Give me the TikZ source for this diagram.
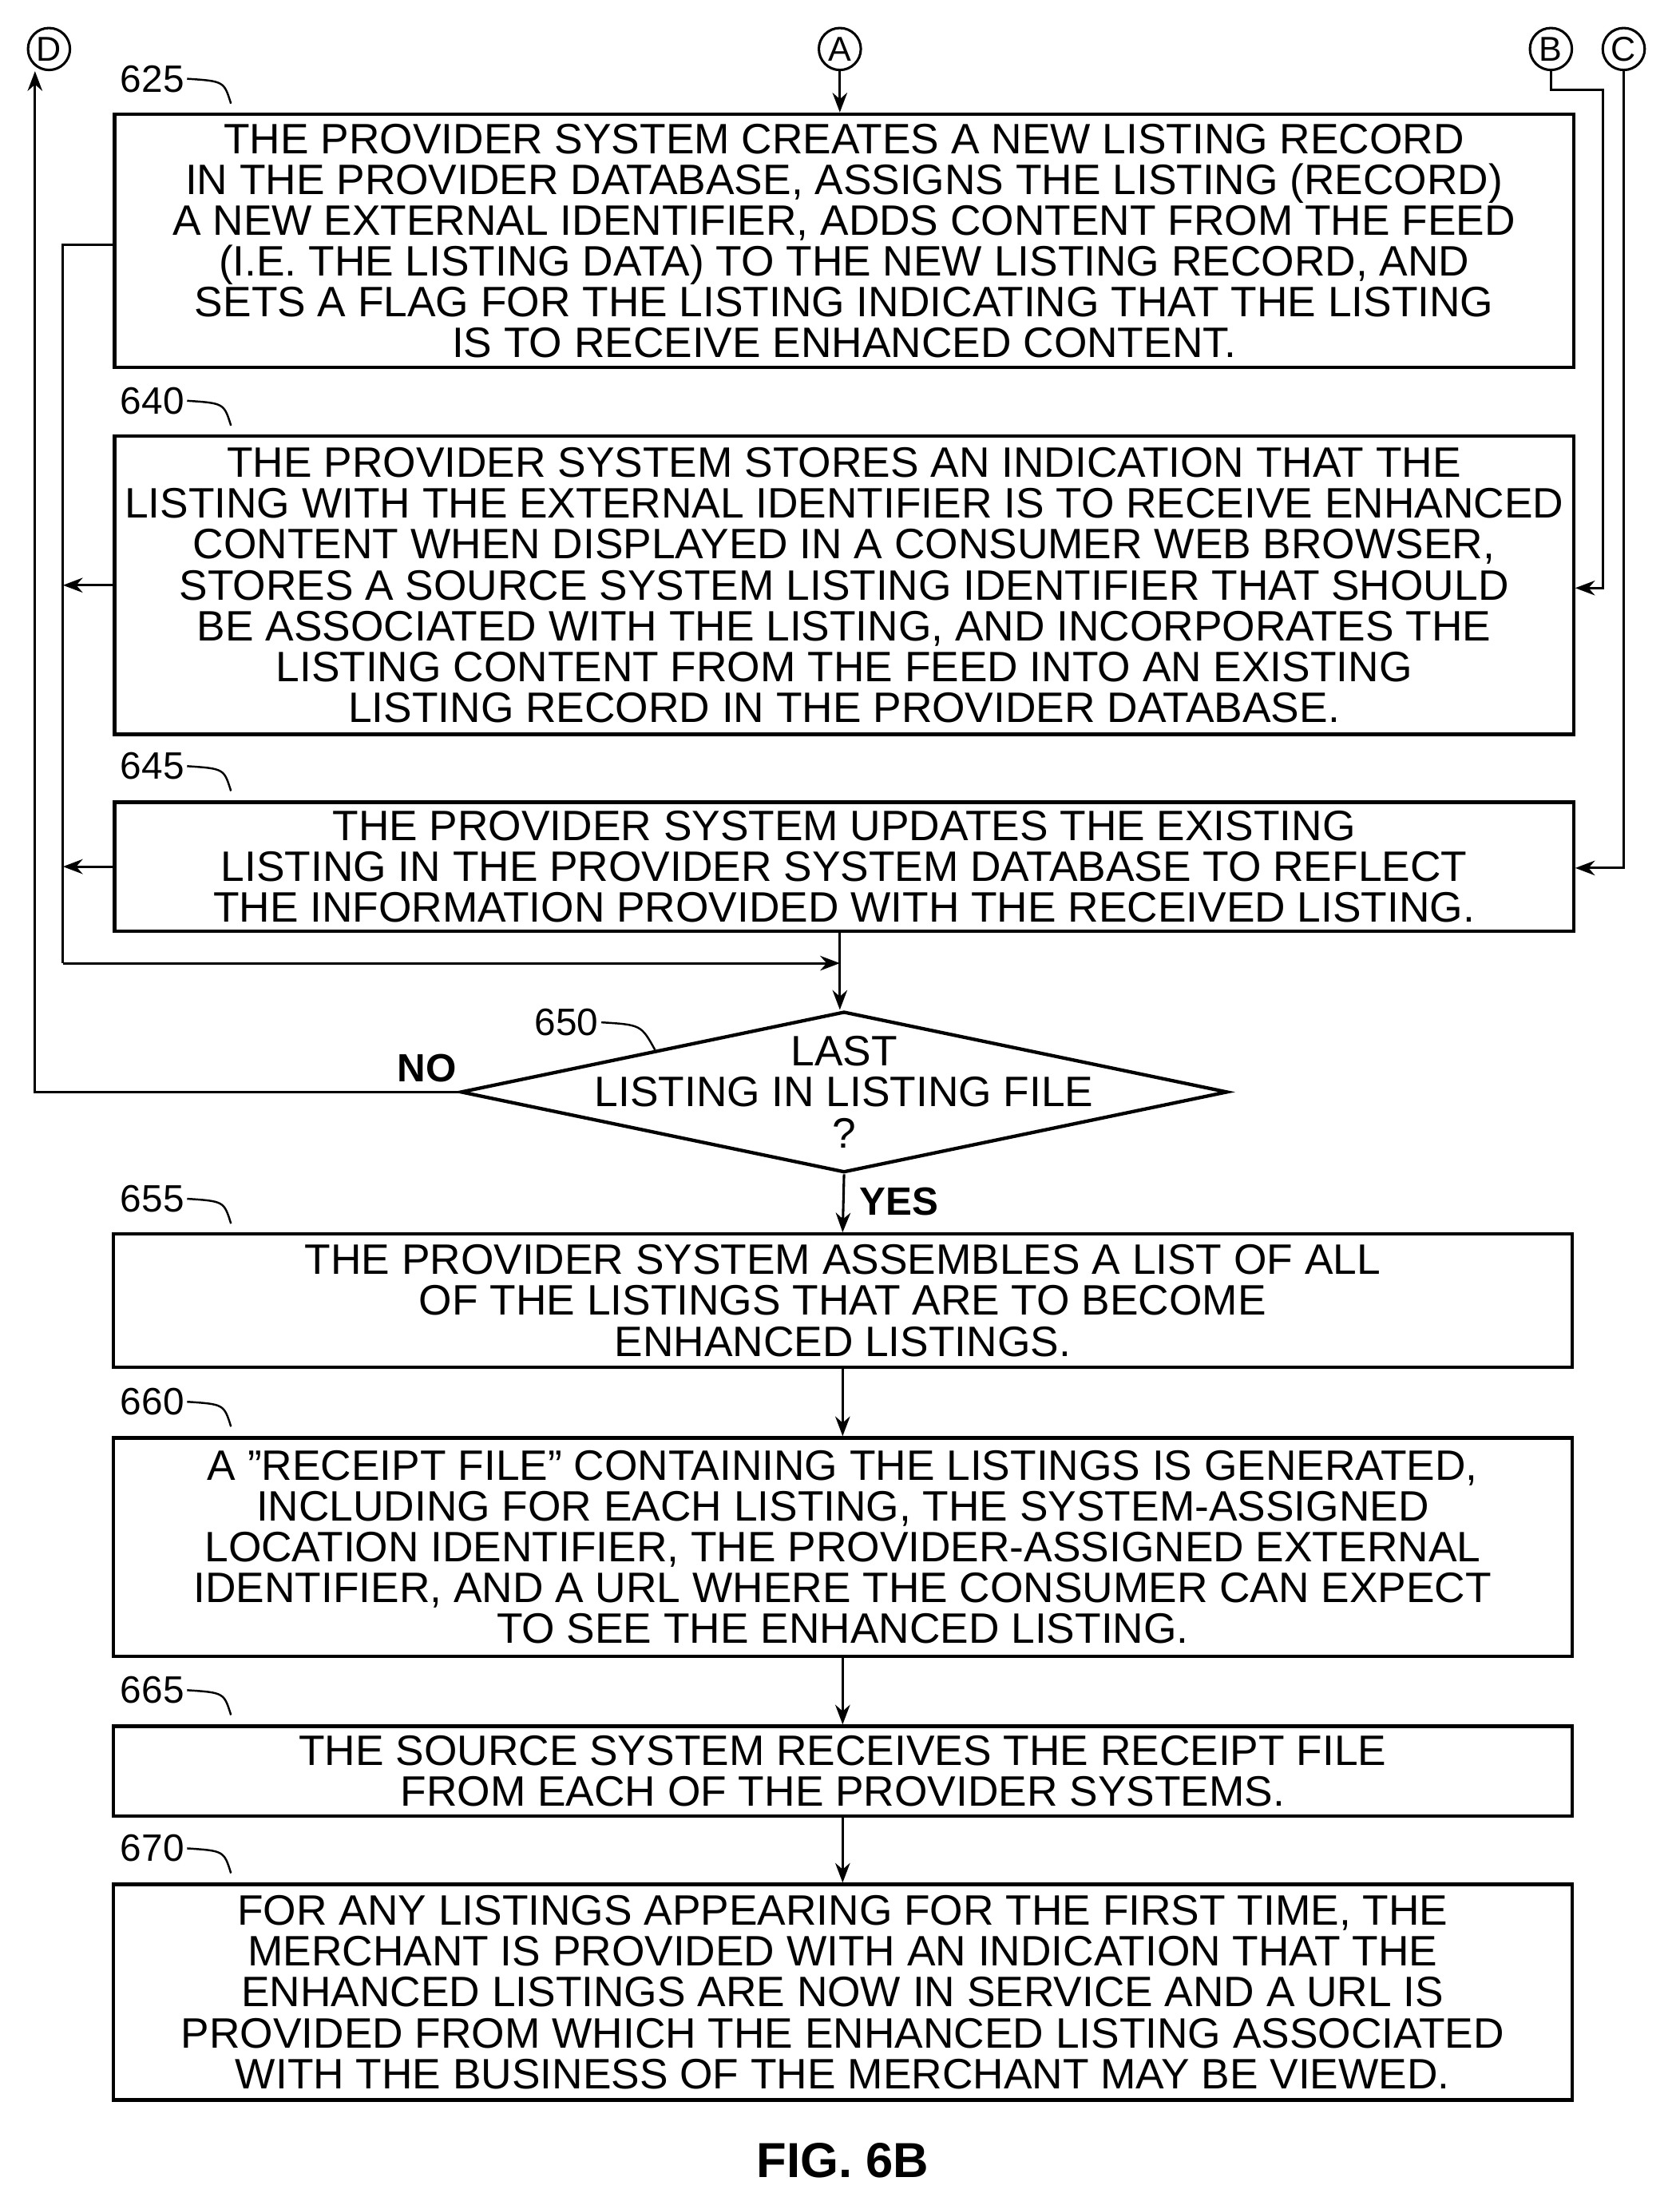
\documentclass[tikz,border=0pt]{standalone}
\usepackage{fontspec}
\setmainfont{Liberation Sans}
\usetikzlibrary{positioning}
\usetikzlibrary{shapes.geometric}
\usetikzlibrary{arrows.meta}

\tikzset{
  stepbox/.style={draw, line width=1.4pt, align=center, minimum width=20.85cm, inner sep=0pt, font=\fontsize{17.3}{16.6}\selectfont},
  reflabel/.style={font=\fontsize{15.5}{16}\selectfont, anchor=south west, inner sep=1pt},
  connector/.style={draw, circle, line width=1pt, minimum size=0.6cm, inner sep=0pt, font=\fontsize{14}{14}\selectfont},
  flow/.style={line width=1pt, -{Stealth[length=8pt,width=6pt]}},
  hook/.style={line width=0.8pt}
}

\begin{document}
\begin{tikzpicture}[x=0.02cm, y=-0.02cm]

        \useasboundingbox (0,0) rectangle (1200,1575);

        % Connectors
        \node[connector] (conA) at (600,35) {A};
        \node[connector] (conD) at (35,35) {D};
        \node[connector] (conB) at (1108,35) {B};
        \node[connector] (conC) at (1160,35) {C};

        % Boxes
        \node[stepbox, minimum height=3.62cm] (box625) at (603,172) {%
            THE PROVIDER SYSTEM CREATES A NEW LISTING RECORD\\
            IN THE PROVIDER DATABASE, ASSIGNS THE LISTING (RECORD)\\
            A NEW EXTERNAL IDENTIFIER, ADDS CONTENT FROM THE FEED\\
            (I.E. THE LISTING DATA) TO THE NEW LISTING RECORD, AND\\
            SETS A FLAG FOR THE LISTING INDICATING THAT THE LISTING\\
            IS TO RECEIVE ENHANCED CONTENT.};
        \node[stepbox, minimum height=4.26cm] (box640) at (603,418) {%
            THE PROVIDER SYSTEM STORES AN INDICATION THAT THE\\
            LISTING WITH THE EXTERNAL IDENTIFIER IS TO RECEIVE ENHANCED\\
            CONTENT WHEN DISPLAYED IN A CONSUMER WEB BROWSER,\\
            STORES A SOURCE SYSTEM LISTING IDENTIFIER THAT SHOULD\\
            BE ASSOCIATED WITH THE LISTING, AND INCORPORATES THE\\
            LISTING CONTENT FROM THE FEED INTO AN EXISTING\\
            LISTING RECORD IN THE PROVIDER DATABASE.};
        \node[stepbox, minimum height=1.84cm] (box645) at (603,619) {%
            THE PROVIDER SYSTEM UPDATES THE EXISTING\\
            LISTING IN THE PROVIDER SYSTEM DATABASE TO REFLECT\\
            THE INFORMATION PROVIDED WITH THE RECEIVED LISTING.};
        \node[draw, diamond, line width=1.4pt, aspect=4.76, minimum width=10.96cm, minimum height=2.3cm, inner sep=0pt] (dec650) at (603,780) {};
        \node[align=center, inner sep=0pt, font=\fontsize{17.3}{16.6}\selectfont] (dec650text) at (dec650.center) {%
            LAST\\ LISTING IN LISTING FILE\\ ?};
        \node[stepbox, minimum height=1.9cm] (box655) at (602,929) {%
            THE PROVIDER SYSTEM ASSEMBLES A LIST OF ALL\\
            OF THE LISTINGS THAT ARE TO BECOME\\
            ENHANCED LISTINGS.};
        \node[stepbox, minimum height=3.12cm] (box660) at (602,1105) {%
            A "RECEIPT FILE" CONTAINING THE LISTINGS IS GENERATED,\\
            INCLUDING FOR EACH LISTING, THE SYSTEM-ASSIGNED\\
            LOCATION IDENTIFIER, THE PROVIDER-ASSIGNED EXTERNAL\\
            IDENTIFIER, AND A URL WHERE THE CONSUMER CAN EXPECT\\
            TO SEE THE ENHANCED LISTING.};
        \node[stepbox, minimum height=1.28cm] (box665) at (602,1265) {%
            THE SOURCE SYSTEM RECEIVES THE RECEIPT FILE\\
            FROM EACH OF THE PROVIDER SYSTEMS.};
        \node[stepbox, minimum height=3.08cm] (box670) at (602,1423) {%
            FOR ANY LISTINGS APPEARING FOR THE FIRST TIME, THE\\
            MERCHANT IS PROVIDED WITH AN INDICATION THAT THE\\
            ENHANCED LISTINGS ARE NOW IN SERVICE AND A URL IS\\
            PROVIDED FROM WHICH THE ENHANCED LISTING ASSOCIATED\\
            WITH THE BUSINESS OF THE MERCHANT MAY BE VIEWED.};

        % Reference numerals
        \foreach \ref/\yy in {625/80, 640/310, 645/571, 655/880, 660/1025, 665/1231, 670/1344} {
            \node[reflabel] (lbl\ref) at (84,\yy-12) {\ref};
            \draw[hook] (lbl\ref.east) .. controls (160,\yy-22) .. (165,\yy-6);
        }
        \node[reflabel] (lbl650) at (380,742) {650};
        \draw[hook] (lbl650.east) .. controls (458,732) .. (468,750);

        \node[font=\bfseries\fontsize{20}{20}\selectfont] (figlabel) at (602,1543) {FIG. 6B};

        % Flow
        \coordinate (busTop) at (45,175);
        \coordinate (busBot) at (45,688);
        \coordinate (joinPt) at (600,688);
        \draw[flow] (conA) -- (box625.north -| conA);
        \draw[line width=1pt] (box625.west |- busTop) -- (busTop) -- (busBot);
        \draw[flow] (box640.west) -- (box640.west -| busTop);
        \draw[flow] (box645.west) -- (box645.west -| busTop);
        \draw[flow] (busBot) -- (joinPt);
        \draw[line width=1pt] (box645.south -| joinPt) -- (joinPt);
        \draw[flow] (joinPt) -- (dec650.north -| joinPt);
        \draw[flow] (dec650.west) -- (25,780) -- (conD.south -| 25,0);
        \node[font=\bfseries\fontsize{16}{16}\selectfont] (noLabel) at (305,763) {NO};
        \draw[flow] (dec650.south) -- (box655.north);
        \node[font=\bfseries\fontsize{16}{16}\selectfont, anchor=west] (yesLabel) at (608,858) {YES};
        \draw[flow] (box655) -- (box660);
        \draw[flow] (box660) -- (box665);
        \draw[flow] (box665) -- (box670);
        \draw[flow] (conB.south) -- (1108,64) -- (1145,64) -- (1145,420) -- (box640.east |- 0,420);
        \draw[flow] (conC.south) -- (1160,620) -- (box645.east |- 0,620);

    \end{tikzpicture}
\end{document}
